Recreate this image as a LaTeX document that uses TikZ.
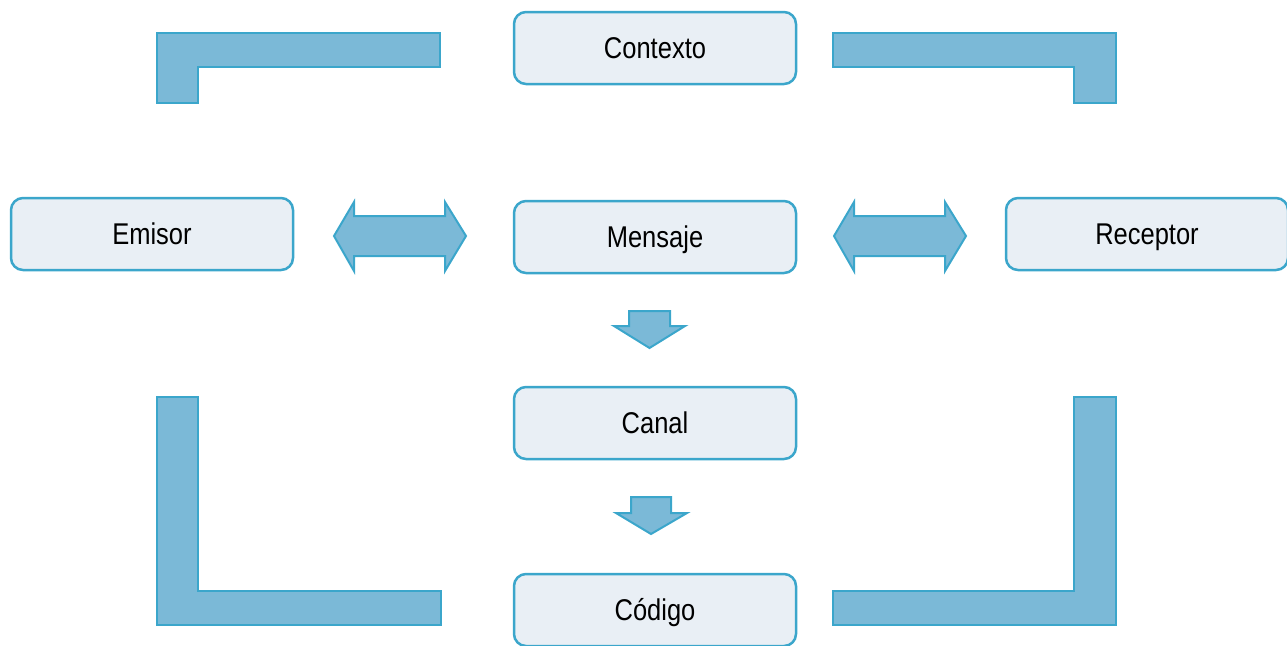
\documentclass[tikz,border=0pt]{standalone}
\usepackage{fontspec}
\setmainfont{Liberation Sans}[FakeStretch=0.85]
\definecolor{boxfill}{HTML}{E9EFF5}
\definecolor{boxline}{HTML}{3BA6CB}
\definecolor{arrfill}{HTML}{7BB9D7}
\begin{document}
\begin{tikzpicture}[x=1pt,y=-1pt,
  box/.style={draw=boxline, line width=2.5pt, fill=boxfill, rounded corners=12pt,
    minimum width=282pt, minimum height=72pt, inner sep=0pt,
    text height=21.5pt, text depth=0pt, font=\fontsize{30}{36}\selectfont},
  blockshape/.style={draw=boxline, line width=2pt, fill=arrfill, line join=miter}]
\useasboundingbox (0,0) rectangle (1287,645);
% nodes
\node[box] (contexto) at (655,48) {Contexto};
\node[box] (emisor) at (152,234) {Emisor};
\node[box] (mensaje) at (655,237) {Mensaje};
\node[box] (receptor) at (1147,234) {Receptor};
\node[box] (canal) at (655,423) {Canal};
\node[box] (codigo) at (655,610) {Código};
% double arrows
\draw[blockshape] (334,236) -- (354,202) -- (354,216) -- (445,216) -- (445,202) -- (466,236)
  -- (445,271) -- (445,256) -- (354,256) -- (354,271) -- cycle;
\draw[blockshape] (834,236) -- (854,202) -- (854,216) -- (945,216) -- (945,202) -- (966,236)
  -- (945,271) -- (945,256) -- (854,256) -- (854,271) -- cycle;
% down arrows
\draw[blockshape] (629,311) -- (670,311) -- (670,326) -- (685,326) -- (649.5,348) -- (614,326) -- (629,326) -- cycle;
\draw[blockshape] (631,497) -- (671,497) -- (671,513) -- (687,513) -- (651,534) -- (616,513) -- (631,513) -- cycle;
% L shapes
\draw[blockshape] (157,33) -- (440,33) -- (440,67) -- (198,67) -- (198,103) -- (157,103) -- cycle;
\draw[blockshape] (1116,33) -- (833,33) -- (833,67) -- (1074,67) -- (1074,103) -- (1116,103) -- cycle;
\draw[blockshape] (157,397) -- (198,397) -- (198,591) -- (441,591) -- (441,625) -- (157,625) -- cycle;
\draw[blockshape] (1116,397) -- (1074,397) -- (1074,591) -- (833,591) -- (833,625) -- (1116,625) -- cycle;
\end{tikzpicture}
\end{document}
